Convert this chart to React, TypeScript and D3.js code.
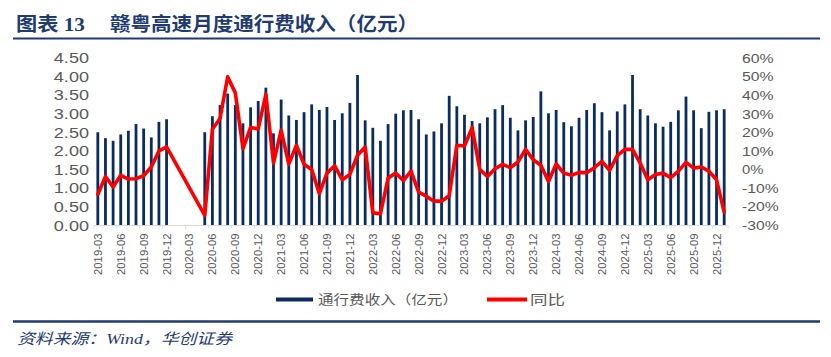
import React from "react";
import * as d3 from "d3";

// Months 2019-03 .. 2026-01 (83 categories)
const months: string[] = d3
  .timeMonth.range(new Date(2019, 2, 1), new Date(2026, 1, 1))
  .map((d) => d3.timeFormat("%Y-%m")(d));

// 通行费收入（亿元）
const revenue: (number | null)[] = [
  2.51, 2.35, 2.28, 2.45, 2.55, 2.73, 2.61, 2.37, 2.79, 2.86,
  null, null, null, null,
  2.51, 2.94, 3.24, 3.55, 3.24, 2.75,
  3.18, 3.35, 3.71, 2.48, 3.39, 2.96, 2.84, 3.05, 3.26, 3.11,
  3.19, 2.84, 3.02, 3.30, 4.05, 2.83, 2.63, 2.28, 2.73, 3.01,
  3.10, 3.11, 2.86, 2.45, 2.53, 2.75, 3.49, 3.21, 2.98, 2.81,
  2.75, 2.91, 3.13, 3.24, 2.90, 2.56, 2.83, 2.92, 3.61, 3.02,
  3.11, 2.78, 2.67, 2.90, 3.11, 3.29, 3.05, 2.56, 3.07, 3.26,
  4.05, 3.13, 2.96, 2.75, 2.66, 2.79, 3.10, 3.47, 3.10, 2.62,
  3.06, 3.10, 3.13,
];

// 同比 (%)
const yoy: (number | null)[] = [
  -13.3, -3.6, -9.3, -3.0, -5.0, -4.8, -3.2, 1.5, 10.1, 12.3,
  null, null, null, null,
  -24.5, 21.8, 27.6, 50.0, 41.4, 11.4,
  22.8, 22.0, 40.6, 3.6, 21.3, 3.0, 13.2, 2.9, 0.2, -12.9,
  -1.8, 2.2, -5.4, -2.5, 7.8, 12.3, -23.2, -23.7, -4.5, -1.8,
  -5.8, -0.7, -12.0, -14.2, -16.9, -16.9, -14.0, 13.2, 12.8, 22.7,
  0.2, -3.6, 0.6, 2.9, 1.1, 4.2, 11.0, 5.4, 2.4, -6.3,
  3.1, -1.8, -3.0, -1.4, -1.6, 1.1, 4.5, -0.3, 7.6, 11.0,
  11.0, 3.6, -5.4, -2.5, -1.8, -4.3, -0.7, 4.0, 0.9, 1.5,
  -0.7, -5.4, -22.8,
];

const leftTicks = [0, 0.5, 1, 1.5, 2, 2.5, 3, 3.5, 4, 4.5];
const rightTicks = [-30, -20, -10, 0, 10, 20, 30, 40, 50, 60];

const title1 = "图表 13";
const title2 = "赣粤高速月度通行费收入（亿元）";
const legend1 = "通行费收入（亿元）";
const legend2 = "同比";
const source = "资料来源：Wind，华创证券";

const NAVY = "#0B2C5E";
const TITLE_NAVY = "#1F3B72";
const RED = "#FF0000";
const GRAY = "#595959";

function numWidth(s: string) {
  let w = 0;
  for (const c of s) {
    if (c >= "0" && c <= "9") w += 10.2;
    else if (c === ".") w += 4.6;
    else if (c === "%") w += 11.2;
    else if (c === "-") w += 5;
  }
  return w;
}

export default function App() {
  const W = 831;
  const H = 357;
  const x0 = 94;
  const x1 = 728;
  const yBottom = 225.5;
  const yTop = 58.3;

  const x = d3.scaleBand<string>().domain(months).range([x0, x1]).padding(0);
  const yL = d3.scaleLinear().domain([0, 4.5]).range([yBottom, yTop]);
  const yR = d3.scaleLinear().domain([-30, 60]).range([yBottom, yTop]);
  const bw = x.bandwidth();
  const barW = 2.8;

  const pts = months
    .map((m, i) => ({ m, v: yoy[i] }))
    .filter((d) => d.v !== null) as { m: string; v: number }[];
  const line = d3
    .line<{ m: string; v: number }>()
    .x((d) => (x(d.m) as number) + bw / 2)
    .y((d) => yR(d.v));

  const tickIdx = months.map((_, i) => i).filter((i) => i % 3 === 0);

  return (
    <svg
      width={W}
      height={H}
      style={{ position: "absolute", left: 0, top: 0, background: "#fff" }}
      fontFamily="'Liberation Sans', Arial, 'Noto Sans CJK SC', sans-serif"
    >
      {/* Title */}
      <text
        x={16}
        y={31}
        fontSize={19}
        fontWeight="bold"
        fill={TITLE_NAVY}
        fontFamily="'Liberation Serif', 'Noto Sans CJK SC', serif"
        textLength={69}
        lengthAdjust="spacingAndGlyphs"
      >
        {title1}
      </text>
      <text
        x={110}
        y={31}
        fontSize={19}
        fontWeight="bold"
        fill={TITLE_NAVY}
        fontFamily="'Noto Sans CJK SC', serif"
        textLength={308}
        lengthAdjust="spacingAndGlyphs"
      >
        {title2}
      </text>
      <line x1={13} x2={820} y1={38.5} y2={38.5} stroke={TITLE_NAVY} strokeWidth={2} />

      {/* Bars */}
      {months.map((m, i) => {
        const v = revenue[i];
        if (v === null) return null;
        const cx = (x(m) as number) + bw / 2;
        return (
          <rect
            key={m}
            x={cx - barW / 2}
            y={yL(v)}
            width={barW}
            height={yBottom - yL(v)}
            fill={NAVY}
          />
        );
      })}

      {/* Axis line */}
      <line x1={x0} x2={x1} y1={yBottom} y2={yBottom} stroke="#D9D9D9" strokeWidth={1} />
      {tickIdx.map((i) => {
        const tx = x(months[i]) as number;
        return (
          <line key={"t" + i} x1={tx} x2={tx} y1={yBottom} y2={yBottom + 3} stroke="#D9D9D9" />
        );
      })}
      <line x1={x1} x2={x1} y1={yBottom} y2={yBottom + 3} stroke="#D9D9D9" />

      {/* YoY line */}
      <path
        d={line(pts) || ""}
        fill="none"
        stroke={RED}
        strokeWidth={3.6}
        strokeLinejoin="round"
        strokeLinecap="round"
      />

      {/* Left axis labels */}
      {leftTicks.map((t) => {
        const s = t.toFixed(2);
        return (
          <text
            key={"l" + t}
            x={89}
            y={yL(t)}
            textAnchor="end"
            dominantBaseline="central"
            fontSize={14}
            fill={GRAY}
            textLength={numWidth(s)}
            lengthAdjust="spacingAndGlyphs"
          >
            {s}
          </text>
        );
      })}

      {/* Right axis labels */}
      {rightTicks.map((t) => {
        const s = `${t}%`;
        return (
          <text
            key={"r" + t}
            x={742}
            y={yR(t)}
            textAnchor="start"
            dominantBaseline="central"
            fontSize={13}
            fill={GRAY}
            textLength={numWidth(s)}
            lengthAdjust="spacingAndGlyphs"
          >
            {s}
          </text>
        );
      })}

      {/* X labels */}
      {tickIdx.map((i) => {
        const cx = (x(months[i]) as number) + bw / 2;
        return (
          <text
            key={"x" + i}
            transform={`translate(${cx},${yBottom + 8}) rotate(-90)`}
            textAnchor="end"
            dominantBaseline="central"
            fontSize={11.3}
            fill={GRAY}
          >
            {months[i]}
          </text>
        );
      })}

      {/* Legend */}
      <rect x={276} y={297.5} width={37} height={4} fill={NAVY} />
      <text
        x={318}
        y={304}
        fontSize={13}
        fill={GRAY}
        fontFamily="'Noto Sans CJK SC', sans-serif"
        textLength={140}
        lengthAdjust="spacingAndGlyphs"
      >
        {legend1}
      </text>
      <line x1={487} x2={527} y1={299.5} y2={299.5} stroke={RED} strokeWidth={4} />
      <text
        x={530}
        y={304}
        fontSize={13}
        fill={GRAY}
        fontFamily="'Noto Sans CJK SC', sans-serif"
        textLength={35}
        lengthAdjust="spacingAndGlyphs"
      >
        {legend2}
      </text>

      {/* Separator and source */}
      <line x1={13} x2={820} y1={321.5} y2={321.5} stroke={TITLE_NAVY} strokeWidth={2.5} />
      <text
        x={17}
        y={344}
        fontSize={15}
        fontStyle="italic"
        fill={TITLE_NAVY}
        fontFamily="'Liberation Serif', 'Noto Sans CJK SC', serif"
        textLength={215}
        lengthAdjust="spacingAndGlyphs"
      >
        {source}
      </text>
    </svg>
  );
}
